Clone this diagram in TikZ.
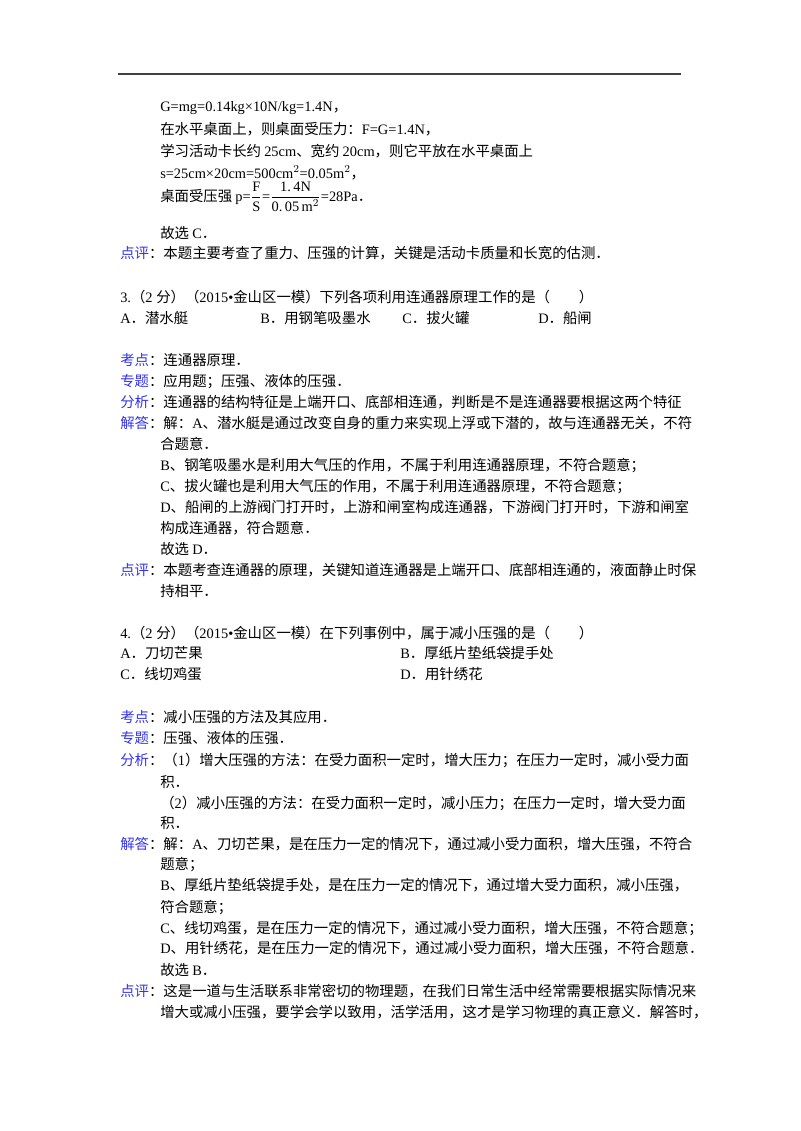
\documentclass[tikz,border=0pt]{standalone}
\usepackage{fontspec}
\setmainfont{Liberation Serif}
\newfontfamily\cjk{Noto Sans CJK SC}
\newfontfamily\latin{Liberation Serif}
% switch to the CJK font for Han characters and full-width punctuation
\XeTeXinterchartokenstate=1
\newXeTeXintercharclass\hanclass
\count255="3000 \loop \XeTeXcharclass\count255=\hanclass \ifnum\count255<"303F \advance\count255 1 \repeat
\count255="4E00 \loop \XeTeXcharclass\count255=\hanclass \ifnum\count255<"9FFF \advance\count255 1 \repeat
\count255="FF00 \loop \XeTeXcharclass\count255=\hanclass \ifnum\count255<"FFEF \advance\count255 1 \repeat
\XeTeXinterchartoks 0 \hanclass = {\cjk}
\XeTeXinterchartoks 4095 \hanclass = {\cjk}
\XeTeXinterchartoks \hanclass 0 = {\latin}
\XeTeXinterchartoks 4095 0 = {\latin}
\definecolor{qblue}{RGB}{51,51,238}
\newcommand{\kd}[1]{\textcolor{qblue}{#1}}
\tikzset{
    ln/.style={anchor=base west,inner sep=0pt,font=\fontsize{10.8pt}{13pt}\selectfont},
}

\begin{document}
\begin{tikzpicture}[x=0.75pt,y=-0.75pt]
\useasboundingbox[fill=white] (0,0) rectangle (800,1131);
\coordinate (rl) at (118,74);
\coordinate (rr) at (681,74);
\draw[line width=1.1pt,black!75] (rl) -- (rr);

% end of question 2
\node[ln] (l1) at (160,112) {G=mg=0.14kg×10N/kg=1.4N，};
\node[ln] (l2) at (160,134) {在水平桌面上，则桌面受压力：F=G=1.4N，};
\node[ln] (l3) at (160,156) {学习活动卡长约 25cm、宽约 20cm，则它平放在水平桌面上};
\node[ln] (l4) at (160,178) {s=25cm×20cm=500cm$^2$=0.05m$^2$，};
\node[ln] (l5) at (160,201) {桌面受压强 p=$\displaystyle\frac{\mbox{F}}{\mbox{S}}$=$\displaystyle\frac{\mbox{1.\,4N}}{\mbox{0.\,05\,m}^2}$=28Pa．};
\node[ln] (l6) at (160,238) {故选 C．};
\node[ln] (dp2) at (120,258) {\kd{点评}：本题主要考查了重力、压强的计算，关键是活动卡质量和长宽的估测．};

% question 3
\node[ln] (q3) at (120,302) {3.（2 分）（2015•金山区一模）下列各项利用连通器原理工作的是（　　）};
\node[ln] (q3a) at (120,323) {A．潜水艇};
\node[ln] (q3b) at (260,323) {B．用钢笔吸墨水};
\node[ln] (q3c) at (402,323) {C．拔火罐};
\node[ln] (q3d) at (538,323) {D．船闸};
\node[ln] (kd3) at (120,365) {\kd{考点}：连通器原理．};
\node[ln] (zt3) at (120,386) {\kd{专题}：应用题；压强、液体的压强．};
\node[ln] (fx3) at (120,407) {\kd{分析}：连通器的结构特征是上端开口、底部相连通，判断是不是连通器要根据这两个特征};
\node[ln] (jd3) at (120,428) {\kd{解答}：解：A、潜水艇是通过改变自身的重力来实现上浮或下潜的，故与连通器无关，不符};
\node[ln] (jd3a) at (160,449) {合题意．};
\node[ln] (jd3b) at (160,470) {B、钢笔吸墨水是利用大气压的作用，不属于利用连通器原理，不符合题意；};
\node[ln] (jd3c) at (160,491) {C、拔火罐也是利用大气压的作用，不属于利用连通器原理，不符合题意；};
\node[ln] (jd3d) at (160,512) {D、船闸的上游阀门打开时，上游和闸室构成连通器，下游阀门打开时，下游和闸室};
\node[ln] (jd3e) at (160,533) {构成连通器，符合题意．};
\node[ln] (jd3f) at (160,554) {故选 D．};
\node[ln] (dp3) at (120,575) {\kd{点评}：本题考查连通器的原理，关键知道连通器是上端开口、底部相连通的，液面静止时保};
\node[ln] (dp3a) at (160,596) {持相平．};

% question 4
\node[ln] (q4) at (120,638) {4.（2 分）（2015•金山区一模）在下列事例中，属于减小压强的是（　　）};
\node[ln] (q4a) at (120,658) {A．刀切芒果};
\node[ln] (q4b) at (400,658) {B．厚纸片垫纸袋提手处};
\node[ln] (q4c) at (120,679) {C．线切鸡蛋};
\node[ln] (q4d) at (400,679) {D．用针绣花};
\node[ln] (kd4) at (120,722) {\kd{考点}：减小压强的方法及其应用．};
\node[ln] (zt4) at (120,743) {\kd{专题}：压强、液体的压强．};
\node[ln] (fx4) at (120,765) {\kd{分析}：（1）增大压强的方法：在受力面积一定时，增大压力；在压力一定时，减小受力面};
\node[ln] (fx4a) at (160,787) {积．};
\node[ln] (fx4b) at (160,808) {（2）减小压强的方法：在受力面积一定时，减小压力；在压力一定时，增大受力面};
\node[ln] (fx4c) at (160,828) {积．};
\node[ln] (jd4) at (120,849) {\kd{解答}：解：A、刀切芒果，是在压力一定的情况下，通过减小受力面积，增大压强，不符合};
\node[ln] (jd4a) at (160,869) {题意；};
\node[ln] (jd4b) at (160,890) {B、厚纸片垫纸袋提手处，是在压力一定的情况下，通过增大受力面积，减小压强，};
\node[ln] (jd4c) at (160,912) {符合题意；};
\node[ln] (jd4d) at (160,933) {C、线切鸡蛋，是在压力一定的情况下，通过减小受力面积，增大压强，不符合题意；};
\node[ln] (jd4e) at (160,953) {D、用针绣花，是在压力一定的情况下，通过减小受力面积，增大压强，不符合题意．};
\node[ln] (jd4f) at (160,975) {故选 B．};
\node[ln] (dp4) at (120,996) {\kd{点评}：这是一道与生活联系非常密切的物理题，在我们日常生活中经常需要根据实际情况来};
\node[ln] (dp4a) at (160,1017) {增大或减小压强，要学会学以致用，活学活用，这才是学习物理的真正意义．解答时，};
\end{tikzpicture}
\end{document}
